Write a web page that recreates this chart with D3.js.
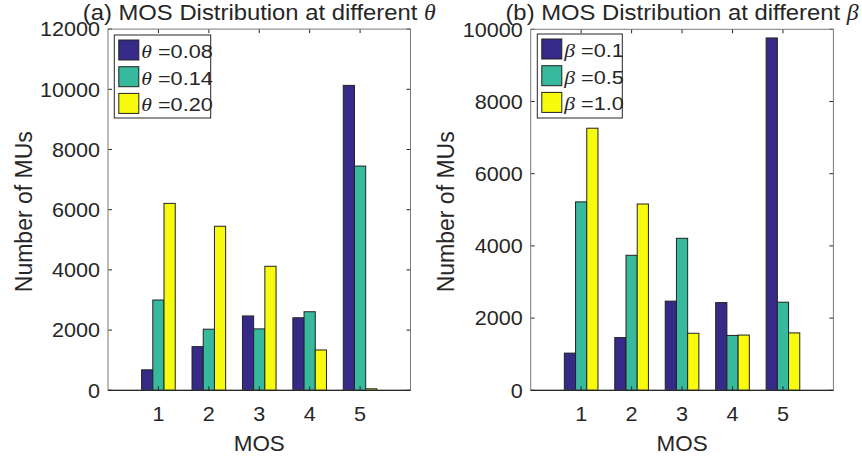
<!DOCTYPE html>
<html>
<head>
<meta charset="utf-8">
<script src="https://cdn.jsdelivr.net/npm/d3@7"></script>
<style>
  html, body { margin: 0; padding: 0; background: #fff; }
  svg { display: block; }
  text { font-family: "Liberation Sans", Arial, Helvetica, sans-serif; fill: #262626; }
</style>
</head>
<body>
<svg id="chart" width="862" height="462"></svg>
<script>
// MOS score categories shared by both panels
const mosLevels = [1, 2, 3, 4, 5];

// Panel (a): number of MUs per MOS score for three theta values
const thetaNames = ["0.08", "0.14", "0.20"];
const theta008 = [680, 1450, 2470, 2410, 10130];
const theta014 = [3000, 2030, 2040, 2610, 7450];
const theta020 = [6210, 5450, 4120, 1340, 50];
const thetaTicks = [0, 2000, 4000, 6000, 8000, 10000, 12000];

// Panel (b): number of MUs per MOS score for three beta values
const betaNames = ["0.1", "0.5", "1.0"];
const beta01 = [1030, 1460, 2470, 2430, 9760];
const beta05 = [5220, 3740, 4210, 1520, 2440];
const beta10 = [7260, 5160, 1580, 1530, 1590];
const betaTicks = [0, 2000, 4000, 6000, 8000, 10000];

const seriesColors = ["#352a87", "#36b99c", "#f9fb0e"];
const axisColor = "#262626";

const svg = d3.select("#chart");

// text helper: fonts are drawn slightly widened horizontally
function label(g, x, y, str, opts) {
  const o = Object.assign({ size: 20, anchor: "middle", sx: 1.08, rotate: 0, dy: null }, opts || {});
  const t = g.append("text")
    .attr("transform", `translate(${x},${y}) rotate(${o.rotate}) scale(${o.rotate ? 1 : o.sx},${o.rotate ? o.sx : 1})`)
    .attr("text-anchor", o.anchor)
    .style("font-size", o.size + "px");
  if (o.dy) t.attr("dy", o.dy);
  return t.text(str);
}

function panel(cfg) {
  const g = svg.append("g");
  const x = d3.scaleLinear().domain([0, 6]).range([cfg.left, cfg.right]);
  const y = d3.scaleLinear().domain([0, cfg.yMax]).range([cfg.bottom, cfg.top]);
  const groupWidth = 2 / 3;
  const barW = groupWidth / cfg.series.length;

  // bars
  cfg.series.forEach((vals, si) => {
    const off = (si - (cfg.series.length - 1) / 2) * barW;
    g.append("g").selectAll("rect")
      .data(vals)
      .join("rect")
      .attr("x", (d, i) => x(mosLevels[i] + off - barW / 2))
      .attr("width", x(barW) - x(0))
      .attr("y", d => y(d))
      .attr("height", d => y(0) - y(d))
      .attr("fill", seriesColors[si])
      .attr("stroke", "#222")
      .attr("stroke-width", 1);
  });

  // inward ticks on all four sides
  const tl = 4;
  const ticks = g.append("g").attr("stroke", axisColor).attr("stroke-width", 1);
  mosLevels.forEach(m => {
    ticks.append("line").attr("x1", x(m)).attr("x2", x(m)).attr("y1", y(0)).attr("y2", y(0) - tl);
    ticks.append("line").attr("x1", x(m)).attr("x2", x(m)).attr("y1", y(cfg.yMax)).attr("y2", y(cfg.yMax) + tl);
  });
  cfg.yTicks.forEach(v => {
    ticks.append("line").attr("x1", x(0)).attr("x2", x(0) + tl).attr("y1", y(v)).attr("y2", y(v));
    ticks.append("line").attr("x1", x(6)).attr("x2", x(6) - tl).attr("y1", y(v)).attr("y2", y(v));
  });

  // axes box
  g.append("rect")
    .attr("x", x(0)).attr("y", y(cfg.yMax))
    .attr("width", x(6) - x(0)).attr("height", y(0) - y(cfg.yMax))
    .attr("fill", "none").attr("stroke", "#7a7a7a").attr("stroke-width", 1);
  g.append("line").attr("x1", x(0)).attr("x2", x(6)).attr("y1", y(0)).attr("y2", y(0))
    .attr("stroke", axisColor).attr("stroke-width", 1.2);

  // tick labels
  cfg.yTicks.forEach(v => label(g, x(0) - 8, y(v), String(v), { anchor: "end", dy: "0.36em" }));
  mosLevels.forEach(m => label(g, x(m), cfg.bottom + 31, String(m)));

  // axis titles
  label(g, (cfg.left + cfg.right) / 2, 451, "MOS", { size: 22, sx: 1.02 });
  label(g, cfg.yLabelX, (cfg.top + cfg.bottom) / 2 + 2, "Number of MUs", { size: 23, rotate: -90, sx: 1.08 });

  // panel title with italic greek symbol
  const tt = label(g, (cfg.left + cfg.right) / 2, 20, "", { size: 22.5, sx: 1.06 });
  tt.append("tspan").text(cfg.title + " ");
  tt.append("tspan").style("font-family", "'Liberation Serif', serif").style("font-style", "italic").text(cfg.symbol);

  // legend
  const lg = g.append("g");
  lg.append("rect")
    .attr("x", cfg.legend.x).attr("y", cfg.legend.y)
    .attr("width", cfg.legend.w).attr("height", cfg.legend.h)
    .attr("fill", "#fff").attr("stroke", axisColor).attr("stroke-width", 1);
  cfg.names.forEach((n, i) => {
    const ry = cfg.legend.y + 5 + i * 26.7;
    lg.append("rect")
      .attr("x", cfg.legend.x + 4.5).attr("y", ry)
      .attr("width", 20).attr("height", 20)
      .attr("fill", seriesColors[i]).attr("stroke", "#222").attr("stroke-width", 1);
    const t = label(lg, cfg.legend.x + 27, ry + 18, "", { anchor: "start", size: 19, sx: 1.14 });
    t.append("tspan").style("font-family", "'Liberation Serif', serif").style("font-style", "italic").text(cfg.symbol);
    t.append("tspan").text(" =" + n);
  });
}

panel({
  left: 108, right: 410.5, top: 29.1, bottom: 390.3, yMax: 12000,
  yTicks: thetaTicks, series: [theta008, theta014, theta020], names: thetaNames,
  symbol: "\u03B8", title: "(a) MOS Distribution at different",
  yLabelX: 32, legend: { x: 114.3, y: 35, w: 96.4, h: 83 }
});

panel({
  left: 530.7, right: 833.4, top: 29.3, bottom: 390.3, yMax: 10000,
  yTicks: betaTicks, series: [beta01, beta05, beta10], names: betaNames,
  symbol: "\u03B2", title: "(b) MOS Distribution at different",
  yLabelX: 454, legend: { x: 537.3, y: 34, w: 85, h: 84 }
});
</script>
</body>
</html>
